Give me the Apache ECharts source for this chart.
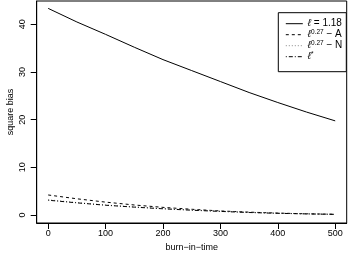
<!DOCTYPE html>
<html><head><meta charset="utf-8">
<script src="https://cdn.jsdelivr.net/npm/echarts@6/dist/echarts.min.js"></script>
<style>html,body{margin:0;padding:0;background:#fff}#c{width:348px;height:260px}</style>
</head><body><div id="c"></div>
<script>
const burnIn = [0, 50, 100, 150, 200, 250, 300, 350, 400, 450, 500];
const ell118 = [43.35, 40.5, 37.9, 35.2, 32.6, 30.3, 28.0, 25.7, 23.6, 21.6, 19.75];
const ellA   = [4.2, 3.4, 2.7, 2.1, 1.6, 1.2, 0.85, 0.6, 0.4, 0.25, 0.15];
const ellN   = [3.2, 2.6, 2.1, 1.7, 1.35, 1.05, 0.8, 0.55, 0.38, 0.25, 0.15];
const ellStar= [3.1, 2.55, 2.05, 1.65, 1.3, 1.0, 0.75, 0.52, 0.35, 0.23, 0.13];
const xTicks = [0, 100, 200, 300, 400, 500];
const yTicks = [0, 10, 20, 30, 40];
const names = ['l118', 'lA', 'lN', 'lS'];
const labels = {
  l118: '{i|ℓ}{n| = 1.18}',
  lA: '{i|ℓ}{s|0.27}{n| − A}',
  lN: '{i|ℓ}{s|0.27}{n| − N}',
  lS: '{i|ℓ}{s|*}'
};
const FONT = 'Liberation Sans, Arial, Helvetica, sans-serif';
const pairs = ys => burnIn.map((x, i) => [x, ys[i]]);
const chart = echarts.init(document.getElementById('c'), null, {renderer: 'canvas'});
const mk = (name, ys, type, color) => ({
  name, type: 'line', data: pairs(ys), symbol: 'none', smooth: false,
  lineStyle: {color, width: 1, type}, itemStyle: {color}, animation: false
});
chart.setOption({
  animation: false,
  textStyle: {fontFamily: FONT},
  grid: {left: 36.7, right: 1.3, top: 1, bottom: 37, containLabel: false, outerBoundsMode: 'none',
         show: true, borderColor: '#000', borderWidth: 1, backgroundColor: 'transparent'},
  xAxis: {
    type: 'value', min: -20, max: 520,
    name: 'burn−in−time', nameLocation: 'middle', nameGap: 20, nameMoveOverlap: false,
    nameTextStyle: {fontSize: 9, color: '#000', fontFamily: FONT},
    axisLine: {show: true, onZero: false, lineStyle: {color: '#000'}},
    axisTick: {show: true, length: 6, customValues: xTicks, lineStyle: {color: '#000'}},
    axisLabel: {customValues: xTicks, fontSize: 9, color: '#000', margin: 6, fontFamily: FONT},
    splitLine: {show: false}
  },
  yAxis: {
    type: 'value', min: -1.68, max: 44.9,
    name: 'square bias', nameLocation: 'middle', nameGap: 22, nameMoveOverlap: false,
    nameTextStyle: {fontSize: 9, color: '#000', fontFamily: FONT},
    axisLine: {show: true, onZero: false, lineStyle: {color: '#000'}},
    axisTick: {show: true, length: 6, customValues: yTicks, lineStyle: {color: '#000'}},
    axisLabel: {customValues: yTicks, fontSize: 9, color: '#000', rotate: 90, margin: 10, fontFamily: FONT},
    splitLine: {show: false}
  },
  legend: {
    orient: 'vertical', left: 278.3, top: 12.7,
    data: names,
    itemWidth: 17, itemHeight: 9, itemGap: 0.5,
    padding: [6, 4, 10, 7],
    borderColor: '#000', borderWidth: 1, backgroundColor: '#fff', borderRadius: 0,
    itemStyle: {opacity: 0},
    lineStyle: {width: 1},
    formatter: n => labels[n],
    textStyle: {
      fontSize: 10, color: '#000', fontFamily: FONT,
      rich: {
        i: {fontSize: 10, fontStyle: 'italic', fontFamily: FONT, color: '#000'},
        n: {fontSize: 10, fontFamily: FONT, color: '#000'},
        s: {fontSize: 6.5, fontFamily: FONT, color: '#000', verticalAlign: 'top', padding: [0, 0, 4, 0]}
      }
    }
  },
  series: [
    mk('l118', ell118, 'solid', '#000'),
    mk('lA', ellA, [3, 3], '#000'),
    mk('lN', ellN, [1, 2], '#888'),
    mk('lS', ellStar, [1, 2, 4, 2], '#000')
  ]
});
</script></body></html>
